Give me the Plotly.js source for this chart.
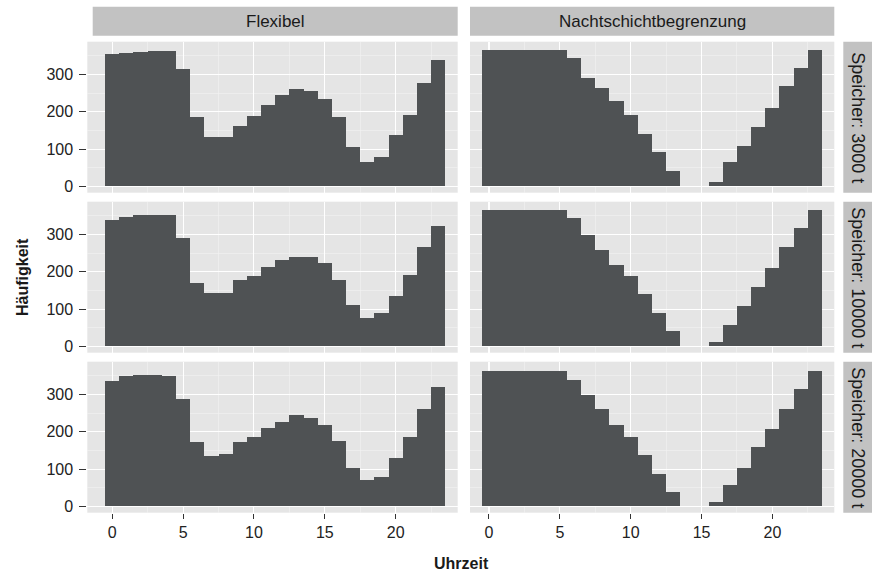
<!DOCTYPE html>
<html>
<head>
<meta charset="utf-8">
<script src="https://cdn.plot.ly/plotly-3.0.1.min.js"></script>
<style>html,body{margin:0;padding:0;background:#fff;}#chart{width:872px;height:578px;}</style>
</head>
<body>
<div id="chart"></div>
<script>
const hours = [0,1,2,3,4,5,6,7,8,9,10,11,12,13,14,15,16,17,18,19,20,21,22,23];
const colLabels = ["Flexibel", "Nachtschichtbegrenzung"];
const rowLabels = ["Speicher: 3000 t", "Speicher: 10000 t", "Speicher: 20000 t"];
const flex3000   = [354,357,361,364,364,315,185,132,132,163,188,217,244,260,255,235,185,106,65,79,139,192,278,340];
const nacht3000  = [365,365,365,365,365,365,343,291,264,230,191,141,91,42,0,0,13,65,109,159,209,269,318,365];
const flex10000  = [340,347,352,352,352,291,170,142,142,177,188,213,231,240,240,224,179,110,76,90,134,192,266,324];
const nacht10000 = [365,365,365,365,365,365,345,300,258,219,188,141,90,42,0,0,11,58,109,159,209,266,318,365];
const flex20000  = [337,349,352,352,349,288,173,135,140,173,186,211,226,244,238,218,175,104,71,80,131,186,260,320];
const nacht20000 = [363,363,363,363,363,363,340,300,260,217,186,137,88,39,0,0,11,57,104,158,207,260,315,363];
const xTicks = [0,5,10,15,20];
const yTicks = [0,100,200,300];

const W = 872, H = 578;
const series = [[flex3000, nacht3000],[flex10000, nacht10000],[flex20000, nacht20000]];
const colPx = [[87.3, 457.7],[470, 834.3]];
const rowPx = [[41.7,192.7],[201.7,352.7],[361.7,512.7]];
const xRanges = [[-1.76, 24.38],[-1.34, 24.37]];
const yRange = [-17, 388];
const barColor = '#4f5254';
const font = 'Liberation Sans, Arial, sans-serif';

const data = [];
const layout = {
  width: W, height: H,
  margin: {l:0, r:0, t:0, b:0},
  paper_bgcolor: '#ffffff',
  plot_bgcolor: '#e5e5e5',
  showlegend: false,
  bargap: 0,
  font: {family: font, size: 16, color: '#222'},
  shapes: [], annotations: []
};

let idx = 0;
for (let r = 0; r < 3; r++) {
  for (let c = 0; c < 2; c++) {
    idx++;
    const xa = idx === 1 ? 'xaxis' : 'xaxis' + idx;
    const ya = idx === 1 ? 'yaxis' : 'yaxis' + idx;
    const xr = idx === 1 ? 'x' : 'x' + idx;
    const yr = idx === 1 ? 'y' : 'y' + idx;
    data.push({
      type: 'bar', x: hours, y: series[r][c], width: 1,
      xaxis: xr, yaxis: yr,
      marker: {color: barColor, line: {width: 0}},
      hoverinfo: 'x+y'
    });
    layout[xa] = {
      domain: [colPx[c][0]/W, colPx[c][1]/W],
      range: xRanges[c], anchor: yr,
      tickvals: xTicks, ticktext: xTicks.map(String),
      showticklabels: r === 2,
      ticks: r === 2 ? 'outside' : '', ticklen: 5, tickcolor: '#333', tickwidth: 1,
      ticklabelstandoff: 0,
      showgrid: true, gridcolor: '#ffffff', gridwidth: 1.1,
      minor: {dtick: 2.5, tick0: 0, showgrid: true, gridcolor: '#f2f2f2', gridwidth: 0.6},
      zeroline: false, showline: false,
      tickfont: {family: font, size: 16, color: '#222'}
    };
    layout[ya] = {
      domain: [1 - rowPx[r][1]/H, 1 - rowPx[r][0]/H],
      range: yRange, anchor: xr,
      tickvals: yTicks, ticktext: yTicks.map(String),
      showticklabels: c === 0,
      ticks: c === 0 ? 'outside' : '', ticklen: 7, tickcolor: '#333', tickwidth: 1,
      ticklabelstandoff: 3,
      showgrid: true, gridcolor: '#ffffff', gridwidth: 1.1,
      minor: {dtick: 50, tick0: 0, showgrid: true, gridcolor: '#f2f2f2', gridwidth: 0.6},
      zeroline: false, showline: false,
      tickfont: {family: font, size: 16, color: '#222'}
    };
  }
}

// column strips
const topStripX = [[92.7, 457.7],[470, 834.3]];
for (let c = 0; c < 2; c++) {
  layout.shapes.push({type:'rect', xref:'paper', yref:'paper', layer:'below',
    x0: topStripX[c][0]/W, x1: topStripX[c][1]/W, y0: 1 - 35.7/H, y1: 1 - 6.7/H,
    fillcolor:'#c2c2c2', line:{width:0}});
  layout.annotations.push({xref:'paper', yref:'paper', showarrow:false,
    x: (topStripX[c][0]+topStripX[c][1])/2/W, y: 1 - 21.5/H, xanchor:'center', yanchor:'middle',
    text: colLabels[c], font:{family: font, size: 17, color:'#1a1a1a'}});
}
// row strips
for (let r = 0; r < 3; r++) {
  layout.shapes.push({type:'rect', xref:'paper', yref:'paper', layer:'below',
    x0: 843.3/W, x1: 1.02, y0: 1 - rowPx[r][1]/H, y1: 1 - rowPx[r][0]/H,
    fillcolor:'#c2c2c2', line:{width:0}});
  layout.annotations.push({xref:'paper', yref:'paper', showarrow:false,
    x: 858/W, y: 1 - (rowPx[r][0]+rowPx[r][1])/2/H, xanchor:'center', yanchor:'middle',
    textangle: 90, text: rowLabels[r], font:{family: font, size: 18, color:'#1a1a1a'}});
}
// axis titles
layout.annotations.push({xref:'paper', yref:'paper', showarrow:false,
  x: 461/W, y: 1 - 563/H, xanchor:'center', yanchor:'middle',
  text: '<b>Uhrzeit</b>', font:{family: font, size: 16, color:'#1a1a1a'}});
layout.annotations.push({xref:'paper', yref:'paper', showarrow:false,
  x: 22/W, y: 1 - 277/H, xanchor:'center', yanchor:'middle', textangle: -90,
  text: '<b>Häufigkeit</b>', font:{family: font, size: 16, color:'#1a1a1a'}});

Plotly.newPlot('chart', data, layout, {displayModeBar: false, staticPlot: true});
</script>
</body>
</html>
